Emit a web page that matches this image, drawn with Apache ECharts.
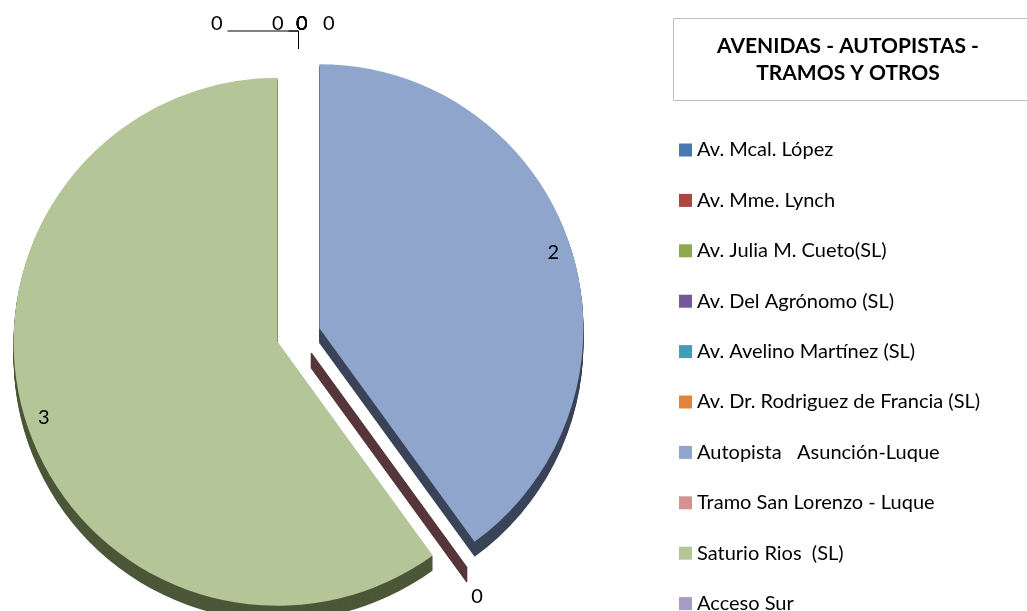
<!DOCTYPE html>
<html><head><meta charset="utf-8">
<script src="https://cdn.jsdelivr.net/npm/echarts@6/dist/echarts.min.js"></script>
<style>html,body{margin:0;padding:0;background:#fff}#c{width:1027px;height:611px}</style>
</head><body><div id="c"></div>
<script>
// ---- data ----
const categories = ['Av. Mcal. López', 'Av. Mme. Lynch', 'Av. Julia M. Cueto(SL)', 'Av. Del Agrónomo (SL)',
  'Av. Avelino Martínez (SL)', 'Av. Dr. Rodriguez de Francia (SL)', 'Autopista   Asunción-Luque',
  'Tramo San Lorenzo - Luque', 'Saturio Rios  (SL)', 'Acceso Sur'];
const values = [0, 0, 0, 0, 0, 0, 2, 0, 3, 0];
const chartTitle = 'AVENIDAS - AUTOPISTAS -\nTRAMOS Y OTROS';

// ---- styles ----
const topColors = ['#4A78B2', '#AC4643', '#8DA94F', '#73599A', '#409FB6', '#E3843B', '#8FA5CB', '#D49291', '#B4C598', '#A89BC2'];
const sideColors = ['#25384F', '#4F2322', '#45522A', '#372B4A', '#204C57', '#6B401E', '#3A4358', '#56363A', '#4C5739', '#4B4458'];
const CX = 298.5, CY = 335, R = 264, EXPLODE = 22, DEPTH = 15;
const FONT = 'Lato';
// label placement for zero-valued slices: [line length, line length2, distance to line]
const zeroLines = {
  0: [18, 0, -9], 1: [18, 0, -9], 2: [18, 0, -9], 3: [18, 0, -9],
  4: [18, 0, -36], 5: [18, 10, 5], 7: [37, 0, -17], 9: [18, 71, 5]
};

const chart = echarts.init(document.getElementById('c'), null, {renderer: 'canvas'});

const base = {
  type: 'pie', startAngle: 90, clockwise: true, selectedMode: 'multiple', selectedOffset: EXPLODE,
  avoidLabelOverlap: false, silent: true, animation: false, minAngle: 0, emphasis: {disabled: true},
  labelLayout: {hideOverlap: false, moveOverlap: null}
};

const series = [];
// top face
series.push(Object.assign({}, base, {
  name: 'top', z: 5, center: [CX, CY], radius: [0, R],
  itemStyle: {borderWidth: 0},
  label: {position: 'outside', formatter: '{c}', fontFamily: FONT, fontSize: 20, color: '#000'},
  labelLine: {lineStyle: {color: '#000', width: 1}},
  data: categories.map((n, i) => {
    const zl = zeroLines[i] || [20, 0, 5];
    return {
      name: n, value: values[i], selected: true,
      itemStyle: {color: topColors[i], borderWidth: 0},
      label: i === 7
        ? {show: true, distanceToLabelLine: zl[2]}
        : {show: values[i] === 0, distanceToLabelLine: zl[2], formatter: '{c}\n', lineHeight: 14},
      labelLine: {show: values[i] === 0 && i !== 7, length: zl[0], length2: zl[1]}
    };
  })
}));
// label ring for non-zero values
series.push(Object.assign({}, base, {
  name: 'labels', z: 6, center: [CX, CY], radius: [R * 0.84, R],
  itemStyle: {color: 'rgba(0,0,0,0)', borderWidth: 0},
  label: {position: 'inside', formatter: '{c}', fontFamily: FONT, fontSize: 20, color: '#000'},
  labelLine: {show: false},
  data: categories.map((n, i) => ({
    name: n, value: values[i], selected: true,
    itemStyle: {color: 'rgba(0,0,0,0)'},
    label: {show: values[i] > 0}
  }))
}));
// 3D depth layers
for (let k = DEPTH; k >= 1; k--) {
  series.push(Object.assign({}, base, {
    name: 'depth' + k, z: 1, center: [CX, CY + k], radius: [0, R],
    label: {show: false}, labelLine: {show: false},
    data: categories.map((n, i) => ({
      name: n, value: values[i], selected: true,
      itemStyle: {color: sideColors[i], borderWidth: i === 7 ? 1.6 : 0, borderColor: sideColors[i]}
    }))
  }));
}

chart.setOption({
  backgroundColor: '#fff',
  animation: false,
  legend: {
    orient: 'vertical', left: 679, top: 140, height: 800, padding: 0,
    itemWidth: 13, itemHeight: 13, itemGap: 30.4, icon: 'rect', selectedMode: false,
    textStyle: {fontFamily: FONT, fontSize: 20, color: '#000', lineHeight: 20},
    data: categories
  },
  graphic: [
    {type: 'rect', shape: {x: 673.5, y: 18.5, width: 400, height: 82},
      style: {fill: '#fff', stroke: '#BFBFBF', lineWidth: 1}, silent: true},
    {type: 'text', x: 848, y: 59.5, silent: true,
      style: {text: chartTitle, fontFamily: FONT, fontWeight: 'bold', fontSize: 21, lineHeight: 27,
        align: 'center', verticalAlign: 'middle', textAlign: 'center', textVerticalAlign: 'middle', fill: '#000'}}
  ],
  series: series
});
</script>
</body></html>
